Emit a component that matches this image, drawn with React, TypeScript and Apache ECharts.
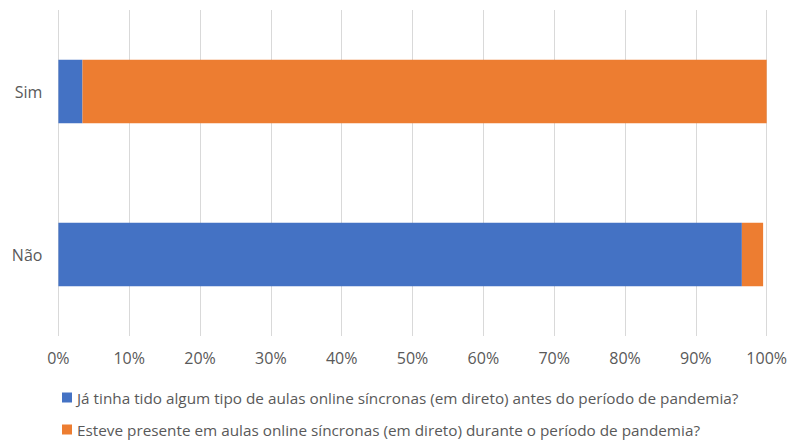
import React, { useEffect, useRef } from "react";
import * as echarts from "echarts";

const categories = ["Não", "Sim"];
const seriesNames = [
  "Já tinha tido algum tipo de aulas online síncronas (em direto) antes do período de pandemia?",
  "Esteve presente em aulas online síncronas (em direto) durante o período de pandemia?",
];
const beforeValues = [96.5, 3.4];
const duringValues = [3.0, 96.6];
const colors = ["#4472C4", "#ED7D31"];

export default function App() {
  const ref = useRef<HTMLDivElement>(null);
  useEffect(() => {
    if (!ref.current) return;
    const chart = echarts.init(ref.current, undefined, { renderer: "svg" });
    const font = "'Open Sans', 'Noto Sans', sans-serif";
    const legendBase = {
      orient: "horizontal",
      left: 62,
      padding: 0,
      itemWidth: 10,
      itemHeight: 10,
      itemGap: 4,
      icon: "rect",
      textStyle: { color: "#595959", fontSize: 15.3, fontFamily: font, lineHeight: 16 },
    };
    chart.setOption({
      animation: false,
      backgroundColor: "#ffffff",
      grid: { left: 58.4, right: 22.3, top: 10, bottom: 105, containLabel: false },
      xAxis: {
        type: "value",
        min: 0,
        max: 100,
        interval: 10,
        axisLine: { show: false },
        axisTick: { show: false },
        splitLine: { lineStyle: { color: "#D9D9D9", width: 1 } },
        axisLabel: {
          formatter: "{value}%",
          color: "#595959",
          fontSize: 16,
          fontFamily: font,
          margin: 14,
        },
      },
      yAxis: {
        type: "category",
        data: categories,
        axisLine: { show: false },
        axisTick: { show: false },
        axisLabel: { color: "#595959", fontSize: 16, fontFamily: font, margin: 16 },
      },
      legend: [
        { ...legendBase, top: 389.5, data: [seriesNames[0]] },
        { ...legendBase, top: 421.5, data: [seriesNames[1]] },
      ],
      series: [
        {
          name: seriesNames[0],
          type: "bar",
          stack: "total",
          data: beforeValues,
          barWidth: "39%",
          itemStyle: { color: colors[0] },
        },
        {
          name: seriesNames[1],
          type: "bar",
          stack: "total",
          data: duringValues,
          barWidth: "39%",
          itemStyle: { color: colors[1] },
        },
      ],
    });
    return () => chart.dispose();
  }, []);
  return (
    <div
      ref={ref}
      style={{ position: "fixed", left: 0, top: 0, width: 790, height: 441 }}
    />
  );
}
